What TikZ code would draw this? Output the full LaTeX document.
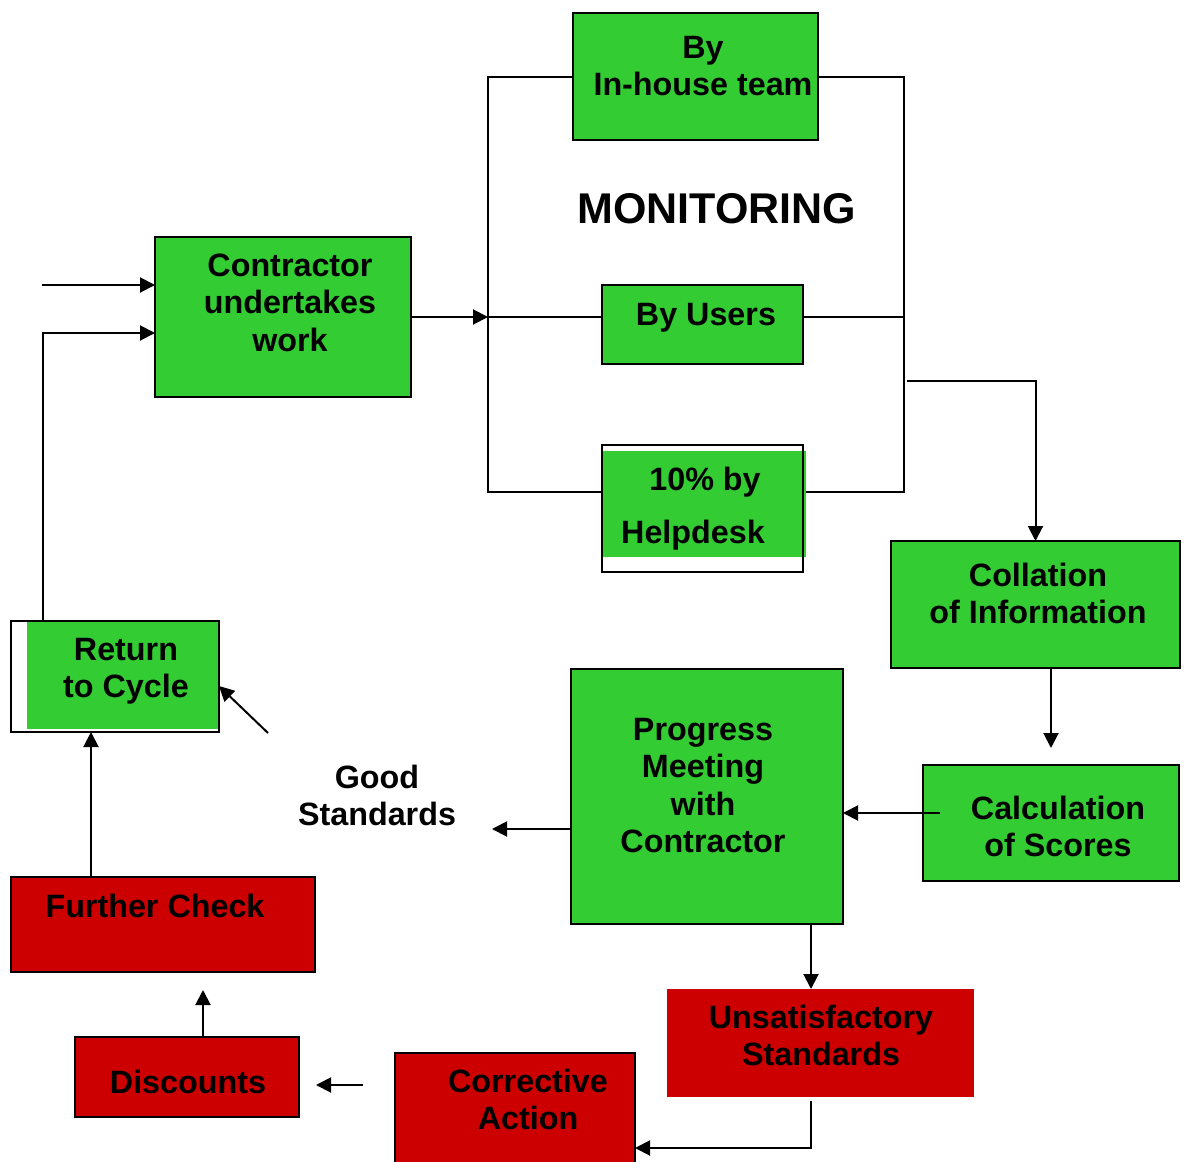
\documentclass[tikz,border=0pt]{standalone}
\usepackage{fontspec}
\setmainfont{Liberation Sans}
\usetikzlibrary{arrows.meta}
\definecolor{gfill}{RGB}{51,204,51}
\definecolor{rfill}{RGB}{204,0,0}
\begin{document}
\begin{tikzpicture}[x=1pt,y=-1pt,
  box/.style={draw=black, line width=2pt, inner sep=0pt, outer sep=0pt},
  gbox/.style={box, fill=gfill},
  rbox/.style={box, fill=rfill},
  gpatch/.style={fill=gfill, inner sep=0pt, outer sep=0pt},
  frame/.style={draw=black, line width=2pt, inner sep=0pt, outer sep=0pt},
  txt/.style={font=\fontsize{32.3}{37.5}\selectfont\bfseries, align=center, inner sep=0pt, anchor=base},
  bigtxt/.style={font=\fontsize{43}{48}\selectfont\bfseries, inner sep=0pt, anchor=base},
  conn/.style={line width=2pt},
  arr/.style={conn, -{Triangle[length=15pt,width=15pt]}},
]
\useasboundingbox (0,0) rectangle (1184,1162);
% boxes
\node[gbox, minimum width=256pt, minimum height=160pt] (contr) at (283,317) {};
\node[gbox, minimum width=245pt, minimum height=127pt] (inh) at (695.5,76.5) {};
\node[gbox, minimum width=201pt, minimum height=79pt] (users) at (702.5,324.5) {};
\node[gpatch, minimum width=203pt, minimum height=106pt] (helpg) at (704.5,504) {};
\node[frame, minimum width=201pt, minimum height=127pt] (help) at (702.5,508.5) {};
\node[gbox, minimum width=289pt, minimum height=127pt] (coll) at (1035.5,604.5) {};
\node[gbox, minimum width=256pt, minimum height=116pt] (calc) at (1051,823) {};
\node[gbox, minimum width=272pt, minimum height=255pt] (prog) at (707,796.5) {};
\node[gpatch, minimum width=192pt, minimum height=107pt] (retg) at (123,675.5) {};
\node[frame, minimum width=208pt, minimum height=111pt] (ret) at (115,676.5) {};
\node[rbox, minimum width=304pt, minimum height=95pt] (fur) at (163,924.5) {};
\node[fill=rfill, inner sep=0pt, outer sep=0pt, minimum width=307pt, minimum height=108pt] (unsat) at (820.5,1043) {};
\node[rbox, minimum width=240pt, minimum height=122pt] (corr) at (515,1114) {};
\node[rbox, minimum width=224pt, minimum height=80pt] (disc) at (187,1077) {};
% texts (anchor = baseline of the last line)
\node[txt] (tcontr) at (290,351) {Contractor\\undertakes\\work};
\node[txt] (tinh) at (703,95.5) {By\\In-house team};
\node[bigtxt] (tmon) at (717,223) {MONITORING};
\node[txt] (tusers) at (706,325) {By Users};
\node[txt] (thelpa) at (705,490) {10\% by};
\node[txt] (thelpb) at (693,543) {Helpdesk};
\node[txt] (tcoll) at (1038,623.5) {Collation\\of Information};
\node[txt] (tcalc) at (1058,856.5) {Calculation\\of Scores};
\node[txt] (tprog) at (703,852.5) {Progress\\Meeting\\with\\Contractor};
\node[txt] (tgood) at (377,825.5) {Good\\Standards};
\node[txt] (tret) at (126,697.5) {Return\\to Cycle};
\node[txt] (tfur) at (155,917) {Further Check};
\node[txt] (tunsat) at (821,1065.5) {Unsatisfactory\\Standards};
\node[txt] (tcorr) at (528,1129.5) {Corrective\\Action};
\node[txt] (tdisc) at (188,1093) {Discounts};
% coordinates
\coordinate (inA) at (42,285);
\coordinate (retup) at (43,621);
\coordinate (busL) at (488,317);
\coordinate (busLB) at (488,492);
\coordinate (busRB) at (904,492);
\coordinate (br) at (907,381);
\coordinate (calcin) at (1051,748);
\coordinate (calcout) at (940,813);
\coordinate (goodtip) at (492,829);
\coordinate (diagS) at (268,733);
\coordinate (us) at (811,1101);
\coordinate (cdS) at (363,1085);
\coordinate (cdT) at (316,1085);
\coordinate (dfT) at (203,990);
% connectors
\draw[arr] (inA) -- (inA -| contr.west);
\draw[arr] (retup) |- (contr.west |- 0,333);
\draw[arr] (contr.east) -- (busL);
\draw[conn] (inh.west) -| (busLB) -- (help.west |- busLB);
\draw[conn] (inh.east) -| (busRB) -- (helpg.east |- busRB);
\draw[conn] (busL) -- (users.west |- busL);
\draw[conn] (users.east |- busL) -- (busL -| busRB);
\draw[arr] (br) -| (coll.north);
\draw[arr] (coll.south -| calcin) -- (calcin);
\draw[arr] (calcout) -- (calcout -| prog.east);
\draw[arr] (prog.west |- goodtip) -- (goodtip);
\draw[arr] (diagS) -- (ret.east |- 0,686);
\draw[arr] (fur.north -| 91,0) -- (ret.south -| 91,0);
\draw[arr] (prog.south -| 811,0) -- (unsat.north -| 811,0);
\draw[arr] (us) |- (corr.east |- 0,1148);
\draw[arr] (cdS) -- (cdT);
\draw[arr] (disc.north -| dfT) -- (dfT);
\end{tikzpicture}
\end{document}
